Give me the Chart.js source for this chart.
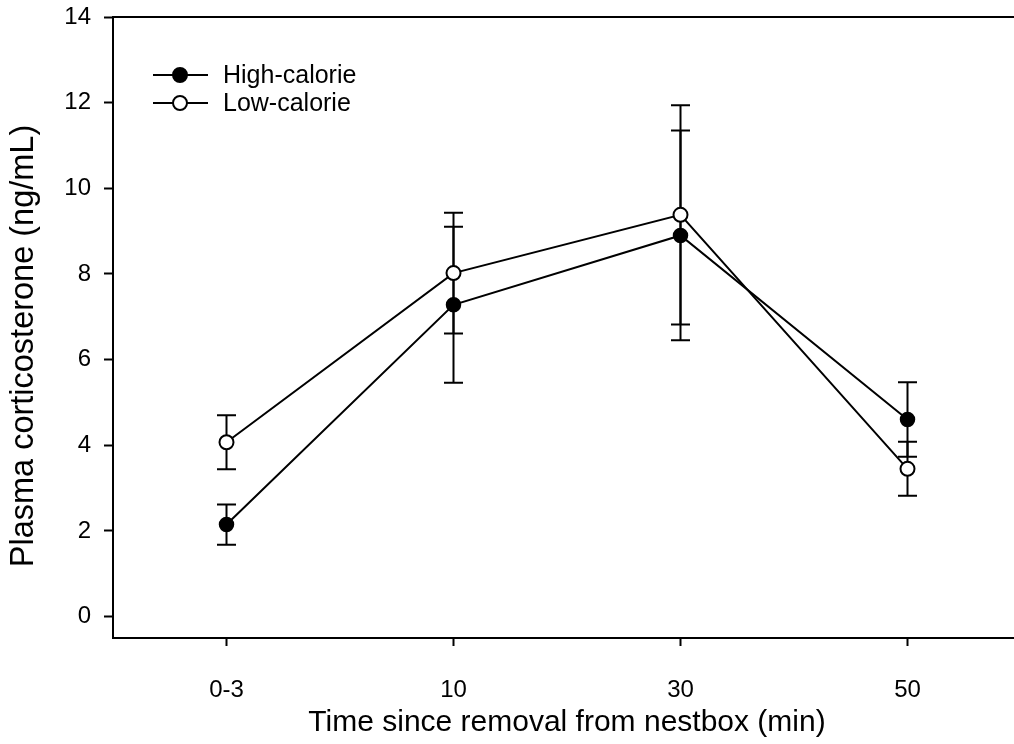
<!DOCTYPE html>
<html>
<head>
<meta charset="utf-8">
<title>Plasma corticosterone</title>
<script src="https://cdn.jsdelivr.net/npm/chart.js@4.4.1/dist/chart.umd.min.js"></script>
<style>
  html, body { margin: 0; padding: 0; background: #fff; overflow: hidden; }
  canvas { display: block; }
</style>
</head>
<body>
<!-- plot runs past the right edge of the window, as in the printed figure -->
<canvas id="cortChart" width="1030" height="744"></canvas>
<script>
const timeLabels = ["0-3", "10", "30", "50"];
const highMean = [2.15, 7.28, 8.90, 4.60];
const highErr = [0.47, 1.82, 2.45, 0.87];
const lowMean = [4.07, 8.02, 9.38, 3.45];
const lowErr = [0.63, 1.41, 2.56, 0.63];
const yTicks = [0, 2, 4, 6, 8, 10, 12, 14];
const yTitle = "Plasma corticosterone (ng/mL)";

const FONT = "'Liberation Sans', Arial, sans-serif";

// vertical error bars with caps, drawn under the markers
const errorBars = {
  id: "errorBars",
  beforeDatasetsDraw(chart) {
    const ctx = chart.ctx;
    const x = chart.scales.x, y = chart.scales.y;
    const cap = 9.5;
    ctx.save();
    ctx.strokeStyle = "#000";
    ctx.lineWidth = 2;
    [[highMean, highErr], [lowMean, lowErr]].forEach(([m, e]) => {
      m.forEach((v, i) => {
        const px = x.getPixelForValue(i);
        const top = y.getPixelForValue(v + e[i]);
        const bot = y.getPixelForValue(v - e[i]);
        ctx.beginPath();
        ctx.moveTo(px, top); ctx.lineTo(px, bot);
        ctx.moveTo(px - cap, top); ctx.lineTo(px + cap, top);
        ctx.moveTo(px - cap, bot); ctx.lineTo(px + cap, bot);
        ctx.stroke();
      });
    });
    ctx.restore();
  }
};

// top frame line, y title and legend
const frameAndLegend = {
  id: "frameAndLegend",
  afterDraw(chart) {
    const ctx = chart.ctx;
    const a = chart.chartArea;
    ctx.save();
    ctx.strokeStyle = "#000";
    ctx.lineWidth = 2;
    ctx.beginPath();
    ctx.moveTo(a.left - 1, a.top);
    ctx.lineTo(chart.width, a.top);
    ctx.stroke();

    ctx.fillStyle = "#000";
    ctx.save();
    ctx.translate(24, 346);
    ctx.rotate(-Math.PI / 2);
    ctx.font = "32.5px " + FONT;
    ctx.textAlign = "center";
    ctx.textBaseline = "middle";
    ctx.fillText(yTitle, 0, 0);
    ctx.restore();

    const rows = [
      { text: "High-calorie", fill: "#000", y: 75 },
      { text: "Low-calorie", fill: "#fff", y: 103 }
    ];
    ctx.font = "25px " + FONT;
    ctx.textBaseline = "middle";
    ctx.textAlign = "left";
    rows.forEach(r => {
      ctx.beginPath();
      ctx.moveTo(153, r.y); ctx.lineTo(208, r.y);
      ctx.stroke();
      ctx.beginPath();
      ctx.arc(180, r.y, 7, 0, Math.PI * 2);
      ctx.fillStyle = r.fill;
      ctx.fill();
      ctx.stroke();
      ctx.fillStyle = "#000";
      ctx.fillText(r.text, 223, r.y + 1);
    });
    ctx.restore();
  }
};

const ctx = document.getElementById("cortChart").getContext("2d");

new Chart(ctx, {
  type: "line",
  data: {
    datasets: [
      {
        label: "High-calorie",
        data: highMean.map((v, i) => ({ x: i, y: v })),
        borderColor: "#000",
        borderWidth: 2,
        pointRadius: 7,
        pointBackgroundColor: "#000",
        pointBorderColor: "#000",
        pointBorderWidth: 1.5,
        tension: 0
      },
      {
        label: "Low-calorie",
        data: lowMean.map((v, i) => ({ x: i, y: v })),
        borderColor: "#000",
        borderWidth: 2,
        pointRadius: 7,
        pointBackgroundColor: "#fff",
        pointBorderColor: "#000",
        pointBorderWidth: 2,
        tension: 0
      }
    ]
  },
  options: {
    responsive: false,
    animation: false,
    layout: { padding: { top: 17, right: 0, left: 0, bottom: 0 } },
    plugins: {
      legend: { display: false },
      tooltip: { enabled: false }
    },
    scales: {
      x: {
        type: "linear",
        min: -0.5,
        max: 3.5,
        afterBuildTicks: (scale) => { scale.ticks = timeLabels.map((_, i) => ({ value: i })); },
        afterFit: (scale) => {
          scale.height = 106;
          scale.paddingRight = 0;
          scale.paddingLeft = 0;
        },
        border: { display: true, color: "#000", width: 2 },
        grid: { drawOnChartArea: false, drawTicks: true, tickLength: 8, tickWidth: 2, tickColor: "#000" },
        ticks: {
          color: "#000",
          padding: 30,
          maxRotation: 0,
          font: { family: FONT, size: 24 },
          callback: (v) => timeLabels[v]
        },
        title: {
          display: true,
          text: "Time since removal from nestbox (min)",
          color: "#000",
          font: { family: FONT, size: 30 },
          padding: { top: 0, bottom: 3 }
        }
      },
      y: {
        min: -0.5,
        max: 14,
        afterBuildTicks: (scale) => { scale.ticks = yTicks.map(v => ({ value: v })); },
        afterFit: (scale) => {
          scale.width = 113;
          scale.paddingTop = 0;
          scale.paddingBottom = 0;
        },
        border: { display: true, color: "#000", width: 2 },
        grid: { drawOnChartArea: false, drawTicks: true, tickLength: 9, tickWidth: 2, tickColor: "#000" },
        ticks: {
          color: "#000",
          padding: 13,
          font: { family: FONT, size: 24 }
        },
        title: { display: false }
      }
    }
  },
  plugins: [errorBars, frameAndLegend]
});
</script>
</body>
</html>
